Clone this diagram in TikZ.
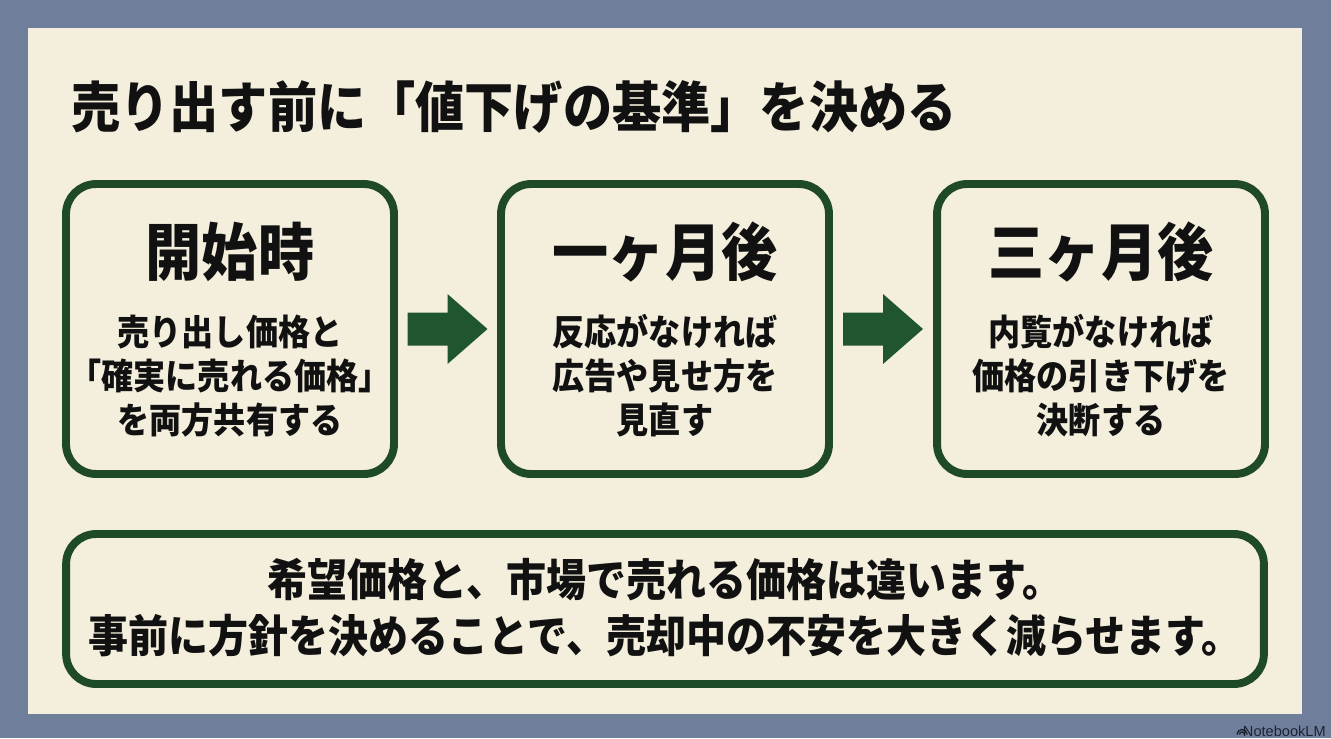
\documentclass[tikz,border=0pt]{standalone}
\usepackage{fontspec}
\newfontfamily\jp[FakeStretch=0.9]{Noto Sans CJK JP}
\newfontfamily\brandfont{Liberation Sans}
\usetikzlibrary{calc}

\definecolor{slate}{HTML}{6E7E9B}
\definecolor{cream}{HTML}{F4EEDC}
\definecolor{boxgreen}{HTML}{1E4A2A}
\definecolor{arrowgreen}{HTML}{1F5530}
\definecolor{ink}{HTML}{111111}
\definecolor{brandink}{HTML}{1C2433}

\begin{document}
\begin{tikzpicture}[x=0.02cm,y=-0.02cm,
    stagebox/.style={draw=boxgreen, line width=4.5pt, rounded corners=0.6cm,
      minimum width=6.56cm, minimum height=5.8cm},
    stagehead/.style={font=\jp\bfseries\fontsize{35.5}{40}\selectfont, text=ink, inner sep=0pt},
    stagetext/.style={font=\jp\bfseries\fontsize{20.3}{25}\selectfont, align=center, text=ink, inner sep=0pt},
    flowarrow/.style={fill=arrowgreen}]
  % Hintergrund
  \fill[slate] (0,0) rectangle (1331,738);
  \fill[cream] (28,28) rectangle (1302,714);

  % Titel
  \node[anchor=west, font=\jp\bfseries\fontsize{31.1}{34}\selectfont, text=ink, inner sep=0pt]
    (title) at (71,107) {売り出す前に「値下げの基準」を決める};

  % Stufen
  \node[stagebox] (start) at (230,329) {};
  \node[stagehead] (starthead) at (230,252) {開始時};
  \node[stagetext] (starttext) at (230,376) {売り出し価格と\\「確実に売れる価格」\\を両方共有する};

  \node[stagebox] (month1) at (665,329) {};
  \node[stagehead] (month1head) at (665,252) {一ヶ月後};
  \node[stagetext] (month1text) at (665,376) {反応がなければ\\広告や見せ方を\\見直す};

  \node[stagebox] (month3) at (1101,329) {};
  \node[stagehead] (month3head) at (1101,252) {三ヶ月後};
  \node[stagetext] (month3text) at (1101,376) {内覧がなければ\\価格の引き下げを\\決断する};

  % Pfeile
  \fill[flowarrow, shift={($(start.east)!0.5!(month1.west)$)}]
    (-40,-16.5) -- (0,-16.5) -- (0,-35) -- (40,0) -- (0,35) -- (0,16.5) -- (-40,16.5) -- cycle;
  \fill[flowarrow, shift={($(month1.east)!0.5!(month3.west)$)}]
    (-40,-16.5) -- (0,-16.5) -- (0,-35) -- (40,0) -- (0,35) -- (0,16.5) -- (-40,16.5) -- cycle;

  % Fazit
  \node[stagebox, minimum width=23.96cm, minimum height=3cm] (summary) at (665,609) {};
  \node[font=\jp\bfseries\fontsize{25.3}{31.8}\selectfont, align=center, text=ink, inner sep=0pt]
    (summarytext) at (665,608) {希望価格と、市場で売れる価格は違います。\\事前に方針を決めることで、売却中の不安を大きく減らせます。};

  % Logo
  \node[anchor=east, font=\brandfont\fontsize{8.3}{9}\selectfont, text=brandink, inner sep=0pt]
    (brand) at (1326,731) {NotebookLM};
  \draw[brandink, line width=0.8pt] (1237,734.5) arc (180:360:5);
  \draw[brandink, line width=0.8pt] (1239.5,734.5) arc (180:360:2.5);
\end{tikzpicture}
\end{document}
